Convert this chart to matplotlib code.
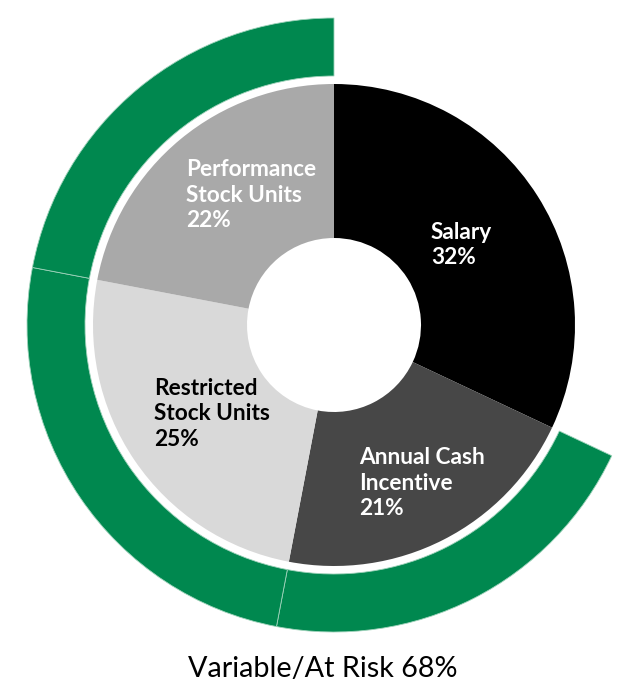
import matplotlib.pyplot as plt

plt.rcParams['font.family'] = ['Lato', 'DejaVu Sans']

labels = ['Salary', 'Annual Cash\nIncentive', 'Restricted\nStock Units', 'Performance\nStock Units']
shares = [32, 21, 25, 22]
inner_colors = ['#000000', '#474747', '#d9d9d9', '#a9a9a9']
label_colors = ['white', 'white', 'black', 'white']
variable = [False, True, True, True]
title = 'Variable/At Risk 68%'

green = '#00884f'

W, H = 635, 696
fig = plt.figure(figsize=(W / 100, H / 100), dpi=100)
ax = fig.add_axes([0, 0, 1, 1])

cx, cy = 334, H - 325

# inner donut
ax.pie(shares, colors=inner_colors, radius=241, center=(cx, cy),
       startangle=90, counterclock=False,
       wedgeprops=dict(width=241 - 87, linewidth=0))

# outer ring for the variable (at risk) part
outer_colors = [green if v else 'none' for v in variable]
ax.pie(shares, colors=outer_colors, radius=307, center=(cx, cy),
       startangle=90, counterclock=False,
       wedgeprops=dict(width=58, linewidth=0.6, edgecolor='#9fd3bb'))
for w, v in zip(ax.patches[len(shares):], variable):
    if not v:
        w.set_visible(False)

# pie() resets the limits, so set them afterwards
ax.set_xlim(0, W)
ax.set_ylim(0, H)
ax.set_aspect('equal')
ax.axis('off')

# slice labels (pixel positions, top-left origin)
label_pos = [(431, 245), (359, 483), (154, 414), (186, 195)]
for lab, s, col, (x, y) in zip(labels, shares, label_colors, label_pos):
    ax.text(x, H - y, f'{lab}\n{s}%', color=col, fontsize=16.3, fontweight='bold',
            ha='left', va='center', linespacing=1.28)

ax.text(323, H - 677, title, fontsize=20.7, ha='center', va='baseline', color='black')

fig.savefig('out.png', dpi=100)
